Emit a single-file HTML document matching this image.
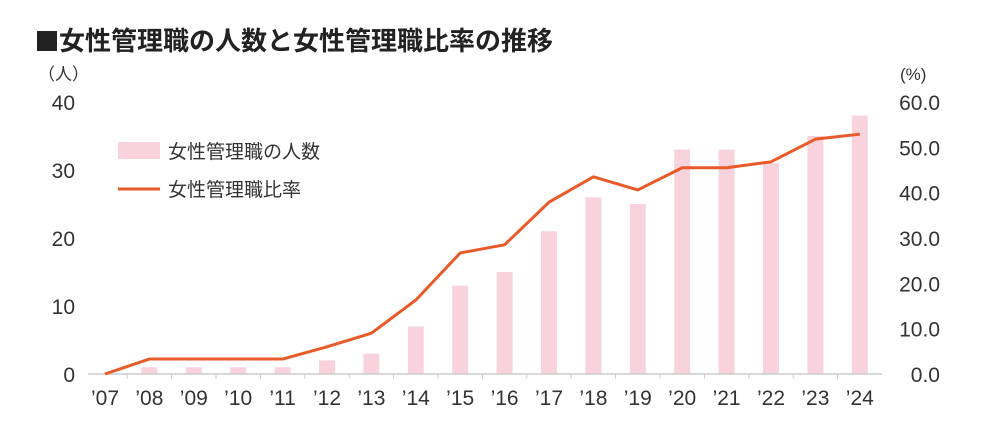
<!DOCTYPE html>
<html><head><meta charset="utf-8"><style>
body{margin:0;background:#fff;}
svg text{font-family:"Liberation Sans","Noto Sans CJK JP",sans-serif;fill:#333;}
</style></head><body>
<svg width="988" height="430" viewBox="0 0 988 430">
<rect x="37" y="31" width="20" height="20" fill="#222"/>
<text x="59" y="50" font-size="26" font-weight="bold" style="fill:#222">女性管理職の人数と女性管理職比率の推移</text>
<text x="38" y="80" font-size="17">（人）</text>
<text x="900" y="80" font-size="17">(%)</text>
<g id="ly"></g><g id="ry"></g><g id="bars"></g><g id="xa"></g>
<polyline id="line" fill="none" stroke="#e85a2a" stroke-width="3" stroke-linejoin="round"/>
<g>
<rect x="118" y="142" width="42" height="17" fill="#f8d3de"/>
<text x="168" y="158" font-size="19">女性管理職の人数</text>
<line x1="118" y1="189" x2="160" y2="189" stroke="#e85a2a" stroke-width="3"/>
<text x="168" y="196" font-size="19">女性管理職比率</text>
</g>
</svg>
<script>
const categories=["'07","'08","'09","'10","'11","'12","'13","'14","'15","'16","'17","'18","'19","'20","'21","'22","'23","'24"];
const counts=[0,1,1,1,1,2,3,7,13,15,21,26,25,33,33,31,35,38];
const ratios=[0,3.3,3.3,3.3,3.3,6,9,16.3,26.7,28.5,37.9,43.5,40.6,45.5,45.5,46.8,51.8,52.9];
const leftTicks=[0,10,20,30,40];
const rightTicks=["0.0","10.0","20.0","30.0","40.0","50.0","60.0"];
const NS="http://www.w3.org/2000/svg";
const y0=374,yTop=102;
const x=i=>105+i*44.4;
const yL=v=>y0-(v/40)*(y0-yTop);
const yR=v=>y0-(v/60)*(y0-yTop);
function mk(t,a,p){const e=document.createElementNS(NS,t);for(const k in a)e.setAttribute(k,a[k]);p.appendChild(e);return e;}
const ly=document.getElementById('ly'),ry=document.getElementById('ry'),bars=document.getElementById('bars'),xa=document.getElementById('xa');
leftTicks.forEach(v=>{const t=mk('text',{x:75,y:yL(v)+8,'font-size':21,'text-anchor':'end'},ly);t.textContent=v;

});
rightTicks.forEach(v=>{const t=mk('text',{x:940,y:yR(parseFloat(v))+8,'font-size':21,'text-anchor':'end'},ry);t.textContent=v;

});
counts.forEach((c,i)=>{if(c<=0)return;const r=mk('rect',{x:x(i)-8,y:yL(c),width:16,height:y0-yL(c),fill:'#f8d3de'},bars);

});
const ax=mk('line',{x1:88,y1:y0,x2:882,y2:y0,stroke:'#ccc','stroke-width':1.5},xa);


categories.forEach((c,i)=>{
 if(i>0){const tk=mk('line',{x1:x(i)-22.2,y1:y0,x2:x(i)-22.2,y2:y0+5,stroke:'#ccc'},xa);
 
 }
 const t=mk('text',{x:x(i),y:405,'font-size':21,'text-anchor':'middle'},xa);t.textContent=c.replace("'","’");
 
 });
document.getElementById('line').setAttribute('points',ratios.map((r,i)=>x(i)+','+yR(r)).join(' '));
</script>
</body></html>
